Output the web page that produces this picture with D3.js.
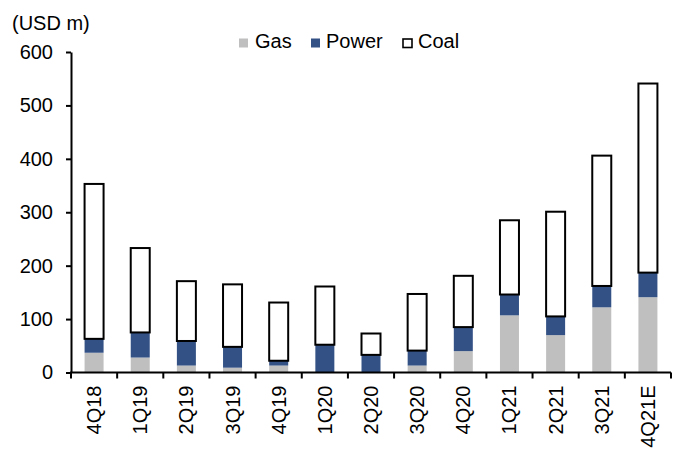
<!DOCTYPE html>
<html>
<head>
<meta charset="utf-8">
<script src="https://cdn.jsdelivr.net/npm/d3@7"></script>
<style>
  html, body { margin: 0; padding: 0; background: #fff; }
  svg { display: block; font-family: "Liberation Sans", Arial, sans-serif; }
</style>
</head>
<body>
<svg id="chart" width="681" height="453"></svg>
<script>
// Quarterly figures, USD m
const quarters = ["4Q18", "1Q19", "2Q19", "3Q19", "4Q19", "1Q20", "2Q20", "3Q20", "4Q20", "1Q21", "2Q21", "3Q21", "4Q21E"];
const gas   = [37, 28, 13, 9, 13, 0, 0, 13, 40, 107, 70, 122, 141];
const power = [26, 47, 46, 39, 9, 52, 33, 28, 45, 39, 35, 40, 46];
const coal  = [290, 158, 112, 117, 109, 109, 40, 106, 96, 139, 196, 244, 354];
const yTicks = [0, 100, 200, 300, 400, 500, 600];
const seriesNames = ["Gas", "Power", "Coal"];

const svg = d3.select("#chart");
const margin = { left: 71, right: 10, top: 52, bottom: 80 };
const W = 681, H = 453;
const y0 = 372.5;
const fontSize = 20;

const x = d3.scaleBand().domain(quarters).range([margin.left, W - margin.right]);
const y = d3.scaleLinear().domain([0, 600]).range([y0, margin.top]);

const rows = quarters.map((q, i) => ({ q, Gas: gas[i], Power: power[i], Coal: coal[i] }));
const stacked = d3.stack().keys(seriesNames)(rows);

const fills = { Gas: "#bfbfbf", Power: "#335185", Coal: "#ffffff" };
const barW = 19;

// Stacked bars
stacked.forEach(layer => {
  const g = svg.append("g");
  g.selectAll("rect").data(layer).enter().append("rect")
    .attr("x", d => x(d.data.q) + x.bandwidth() / 2 - barW / 2)
    .attr("width", barW)
    .attr("y", d => y(d[1]))
    .attr("height", d => Math.max(0, y(d[0]) - y(d[1])))
    .attr("fill", fills[layer.key])
    .attr("stroke", layer.key === "Coal" ? "#000" : "none")
    .attr("stroke-width", layer.key === "Coal" ? 2 : 0);
});

// Y axis
const yAxis = d3.axisLeft(y).tickValues(yTicks).tickSize(5).tickSizeOuter(0).tickPadding(13);
const gy = svg.append("g").attr("transform", `translate(${margin.left},0)`).call(yAxis);
gy.select(".domain").attr("stroke", "#000").attr("stroke-width", 2);
gy.selectAll(".tick line").attr("stroke", "#000").attr("stroke-width", 2);
gy.selectAll(".tick text").attr("font-size", fontSize).attr("fill", "#000")
  .attr("font-family", "Liberation Sans, Arial, sans-serif");

// X axis: line plus boundary ticks between categories
const gx = svg.append("g");
gx.append("line")
  .attr("x1", margin.left - 1).attr("x2", W - margin.right)
  .attr("y1", y(0)).attr("y2", y(0))
  .attr("stroke", "#000").attr("stroke-width", 2);
const bounds = quarters.map(q => x(q)).concat([x(quarters[quarters.length - 1]) + x.bandwidth()]);
gx.selectAll("line.tk").data(bounds).enter().append("line")
  .attr("class", "tk")
  .attr("x1", d => d).attr("x2", d => d)
  .attr("y1", y(0)).attr("y2", y(0) + 6)
  .attr("stroke", "#000").attr("stroke-width", 2);
gx.selectAll("text").data(quarters).enter().append("text")
  .attr("transform", d => `translate(${x(d) + x.bandwidth() / 2 + 7},${y(0) + 13}) rotate(-90)`)
  .attr("text-anchor", "end")
  .attr("font-size", fontSize)
  .attr("fill", "#000")
  .text(d => d);

// Unit label
svg.append("text").attr("x", 12).attr("y", 30)
  .attr("font-size", fontSize).attr("fill", "#000").text("(USD m)");

// Legend
const legendItems = [
  { name: "Gas", x: 239, fill: fills.Gas, stroke: "none", tx: 255 },
  { name: "Power", x: 311, fill: fills.Power, stroke: "none", tx: 326 },
  { name: "Coal", x: 403, fill: "#fff", stroke: "#000", tx: 418 }
];
const lg = svg.append("g");
legendItems.forEach(it => {
  lg.append("rect")
    .attr("x", it.x).attr("y", it.stroke === "none" ? 38.5 : 39)
    .attr("width", it.stroke === "none" ? 9 : 9).attr("height", it.stroke === "none" ? 9 : 8.5)
    .attr("fill", it.fill).attr("stroke", it.stroke).attr("stroke-width", 1.6);
  lg.append("text")
    .attr("x", it.tx).attr("y", 48)
    .attr("font-size", fontSize).attr("fill", "#000").text(it.name);
});
</script>
</body>
</html>
